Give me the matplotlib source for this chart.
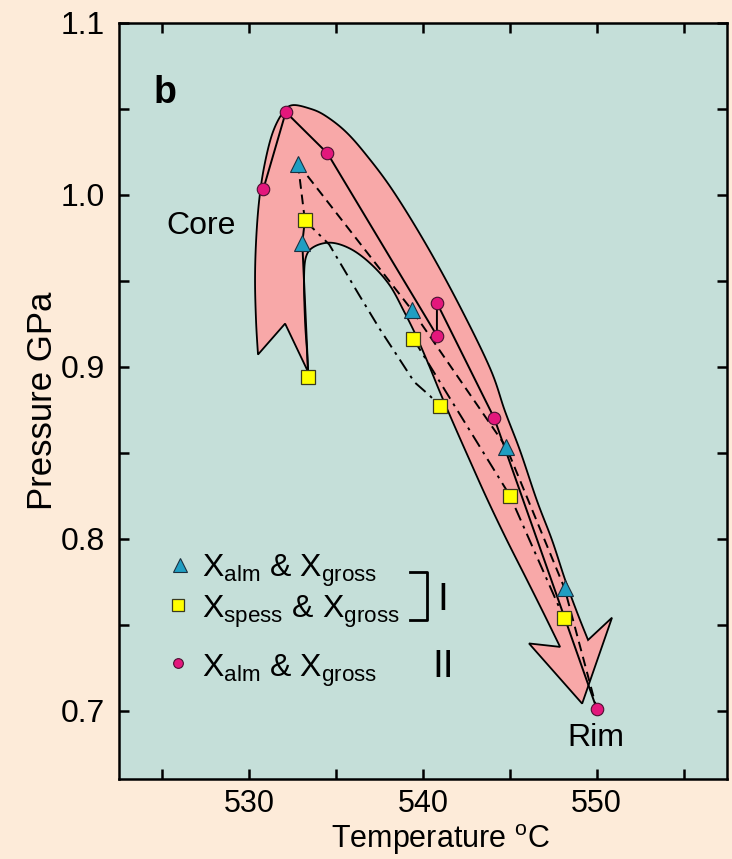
import numpy as np
import matplotlib
matplotlib.use("Agg")
import matplotlib.pyplot as plt
from matplotlib.patches import Polygon
from matplotlib.ticker import MultipleLocator, FormatStrFormatter

plt.rcParams['font.family'] = ['Liberation Sans', 'DejaVu Sans']
plt.rcParams['mathtext.fontset'] = 'custom'
plt.rcParams['mathtext.rm'] = 'Liberation Sans'
plt.rcParams['mathtext.it'] = 'Liberation Sans:italic'
plt.rcParams['mathtext.bf'] = 'Liberation Sans:bold'

# II : X_alm & X_gross (circles), core -> rim
alm2_T = [530.8, 532.1, 534.5, 540.8, 540.8, 544.1, 550.0]
alm2_P = [1.003, 1.048, 1.024, 0.918, 0.937, 0.870, 0.701]

# I : X_alm & X_gross (triangles)
alm1_T = [532.8, 533.05, 539.35, 544.8, 548.15]
alm1_P = [1.018, 0.972, 0.933, 0.853, 0.771]

# I : X_spess & X_gross (squares)
spess_T = [533.2, 533.4, 539.45, 540.95, 545.0, 548.1]
spess_P = [0.985, 0.894, 0.916, 0.877, 0.825, 0.754]

# inner dash-dot path of the spess & gross trend
spess_curve_T = [533.2, 534.6, 536.3, 537.5, 538.6, 539.5, 540.4, 540.95]
spess_curve_P = [0.985, 0.971, 0.942, 0.922, 0.905, 0.891, 0.883, 0.877]

# outline of the shaded P-T arrow (outer edge, head, inner edge, tail)
outer_T = [530.50, 530.39, 530.33, 530.39, 530.56, 530.85, 531.31, 531.88, 532.46,
           533.50, 534.36, 535.51, 536.66, 538.22, 540.12, 542.02, 543.86, 544.72,
           545.59, 546.56, 547.43, 548.18, 548.87, 549.50]
outer_P = [0.907, 0.926, 0.950, 0.973, 0.996, 1.016, 1.035, 1.047, 1.052,
           1.050, 1.046, 1.037, 1.024, 1.003, 0.972, 0.937, 0.899, 0.874,
           0.851, 0.822, 0.799, 0.776, 0.757, 0.741]
head_T = [550.88, 549.16, 546.10]
head_P = [0.754, 0.704, 0.739]
inner_T = [547.89, 546.97, 545.93, 544.78, 543.69, 542.71, 541.79, 540.98, 540.29,
           539.60, 538.91, 538.10, 537.07, 535.91, 534.76, 533.78, 533.27, 533.15,
           533.21, 533.32, 533.38]
inner_P = [0.737, 0.756, 0.777, 0.800, 0.823, 0.845, 0.866, 0.885, 0.902,
           0.918, 0.932, 0.947, 0.959, 0.968, 0.972, 0.970, 0.964, 0.950,
           0.926, 0.909, 0.897]
tail_T = [532.06]
tail_P = [0.925]

PINK = '#F8A8A8'
MAGENTA = '#E3177C'
BLUE = '#1F9EC2'
YELLOW = '#FFFF00'


def smooth(xs, ys, n=10):
    # Catmull-Rom curve through the outline points
    p = np.column_stack([xs, ys]).astype(float)
    p = np.vstack([p[0], p, p[-1]])
    out = []
    for i in range(1, len(p) - 2):
        p0, p1, p2, p3 = p[i - 1], p[i], p[i + 1], p[i + 2]
        for t in np.linspace(0, 1, n, endpoint=False):
            t2, t3 = t * t, t * t * t
            out.append(0.5 * (2 * p1 + (-p0 + p2) * t + (2 * p0 - 5 * p1 + 4 * p2 - p3) * t2
                              + (-p0 + 3 * p1 - 3 * p2 + p3) * t3))
    out.append(p[-2])
    return np.array(out)


fig = plt.figure(figsize=(7.32, 8.59), dpi=100, facecolor='#FDEBD9')
ax = fig.add_axes([0.1626, 0.0928, 0.8306, 0.8808])
ax.set_facecolor('#C5DFD9')

outline = np.vstack([smooth(outer_T, outer_P),
                     np.column_stack([head_T, head_P]),
                     smooth(inner_T, inner_P),
                     np.column_stack([tail_T, tail_P])])
ax.add_patch(Polygon(outline, closed=True, facecolor=PINK,
                     edgecolor='black', linewidth=1.3, joinstyle='miter', zorder=1))

lw = 1.4
dash = (0, (5, 3))
dashdot = (0, (7, 3, 1.5, 3))

# solid path II
ax.plot(alm2_T, alm2_P, color='black', lw=lw, zorder=2)

# dashed path I (alm & gross), ends at the rim
tri = [0, 2, 3, 4]
ax.plot([alm1_T[i] for i in tri] + [alm2_T[-1]], [alm1_P[i] for i in tri] + [alm2_P[-1]],
        color='black', lw=lw, linestyle=dash, zorder=2)
ax.plot([alm1_T[0], spess_T[0]], [alm1_P[0], spess_P[0]],
        color='black', lw=lw, linestyle=dash, zorder=2)

# core links
ax.plot([spess_T[0], alm1_T[1], spess_T[1]], [spess_P[0], alm1_P[1], spess_P[1]],
        color='black', lw=lw, zorder=2)

# dash-dot paths I (spess & gross)
ax.plot(spess_curve_T, spess_curve_P, color='black', lw=lw, linestyle=dashdot, zorder=2)
sq = [2, 4, 5]
ax.plot([spess_T[i] for i in sq], [spess_P[i] for i in sq],
        color='black', lw=lw, linestyle=dashdot, zorder=2)

# markers
ax.plot(alm2_T, alm2_P, 'o', ms=9, mfc=MAGENTA, mec='#4a1030', mew=0.8, zorder=4)
ax.plot(alm1_T, alm1_P, '^', ms=12, mfc=BLUE, mec='#1a3040', mew=0.8, zorder=4)
ax.plot(spess_T, spess_P, 's', ms=10, mfc=YELLOW, mec='#3a3a20', mew=0.9, zorder=4)

# axes styling
ax.set_xlim(522.5, 557.5)
ax.set_ylim(0.66, 1.1)
ax.xaxis.set_major_locator(MultipleLocator(10))
ax.xaxis.set_minor_locator(MultipleLocator(5))
ax.yaxis.set_major_locator(MultipleLocator(0.1))
ax.yaxis.set_minor_locator(MultipleLocator(0.05))
ax.yaxis.set_major_formatter(FormatStrFormatter('%.1f'))
ax.tick_params(which='both', direction='in', length=7, width=1.8,
               top=True, right=True, labelsize=22)
ax.tick_params(axis='x', pad=7)
ax.tick_params(axis='y', pad=10, labelsize=23)
for s in ax.spines.values():
    s.set_linewidth(1.8)

ax.set_xlabel('Temperature $^{\\mathrm{o}}$C', fontsize=22)
ax.xaxis.set_label_coords(0.528, -0.0564)
ax.set_ylabel('Pressure GPa', fontsize=25)
ax.yaxis.set_label_coords(-0.098, 0.5)

# annotations
ax.text(0.0757, 0.9071, 'b', transform=ax.transAxes, fontsize=27, fontweight='bold',
        ha='center', va='center')
ax.text(0.1349, 0.7313, 'Core', transform=ax.transAxes, fontsize=23, ha='center', va='center')
ax.text(0.7845, 0.0546, 'Rim', transform=ax.transAxes, fontsize=23, ha='center', va='center')

# hand-made key
ax.plot([0.1003], [0.2832], '^', ms=10, mfc=BLUE, mec='#1a3040', mew=0.8, transform=ax.transAxes)
ax.plot([0.0975], [0.2304], 's', ms=8, mfc=YELLOW, mec='#3a3a20', mew=0.9, transform=ax.transAxes)
ax.plot([0.0975], [0.1533], 'o', ms=7, mfc=MAGENTA, mec='#4a1030', mew=0.8, transform=ax.transAxes)
ax.text(0.136, 0.2678, 'X$_{\\mathrm{alm}}$ & X$_{\\mathrm{gross}}$', transform=ax.transAxes,
        fontsize=23, va='baseline')
ax.text(0.136, 0.2132, 'X$_{\\mathrm{spess}}$ & X$_{\\mathrm{gross}}$', transform=ax.transAxes,
        fontsize=23, va='baseline')
ax.text(0.136, 0.1356, 'X$_{\\mathrm{alm}}$ & X$_{\\mathrm{gross}}$', transform=ax.transAxes,
        fontsize=23, va='baseline')
ax.plot([0.4786, 0.5061, 0.5061, 0.4786], [0.2744, 0.2744, 0.2106, 0.2106],
        color='black', lw=2, transform=ax.transAxes)
ax.text(0.5329, 0.2369, 'I', transform=ax.transAxes, fontsize=28, ha='center', va='center')
ax.text(0.5329, 0.1488, 'II', transform=ax.transAxes, fontsize=28, ha='center', va='center')

fig.savefig('out.png', dpi=100, facecolor=fig.get_facecolor())
